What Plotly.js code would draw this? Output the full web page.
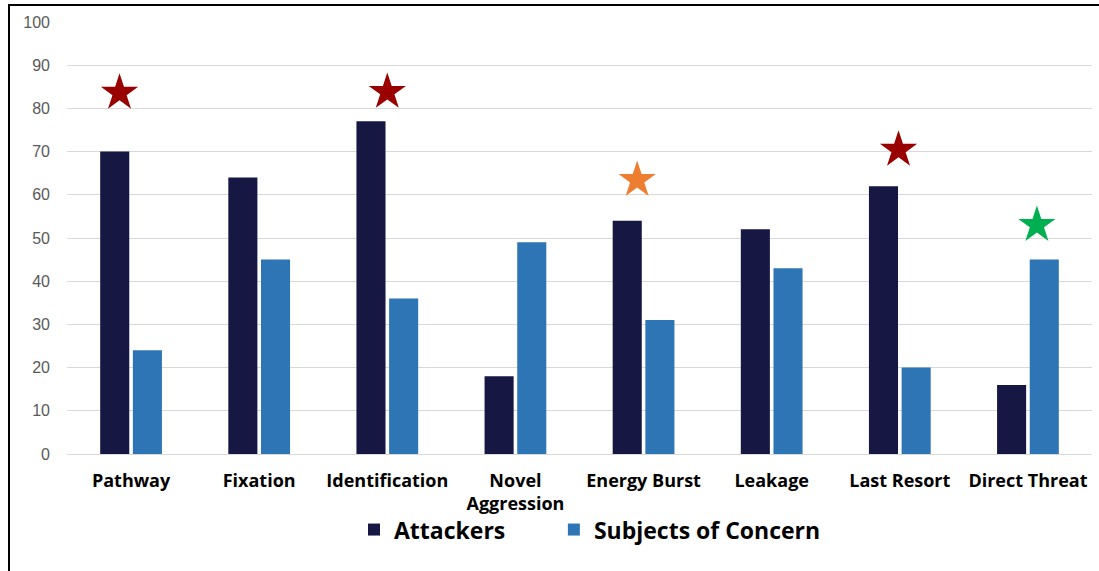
<!DOCTYPE html>
<html>
<head>
<meta charset="utf-8">
<script src="https://cdn.plot.ly/plotly-3.0.1.min.js"></script>
<style>
  html, body { margin: 0; padding: 0; background: #fff; }
  #wrap { position: relative; width: 1099px; height: 571px; overflow: hidden; }
  #frame { position: absolute; left: 8px; top: 4px; right: -10px; bottom: -10px;
           border-top: 2px solid #000; border-left: 2px solid #000; pointer-events: none; }
  #chart { position: absolute; left: 0; top: 0; width: 1099px; height: 571px; }
</style>
</head>
<body>
<div id="wrap">
  <div id="chart"></div>
  <div id="frame"></div>
</div>
<script>
const categories = ["Pathway", "Fixation", "Identification", "Novel<br>Aggression",
                    "Energy Burst", "Leakage", "Last Resort", "Direct Threat"];
const attackers = [70, 64, 77, 18, 54, 52, 62, 16];
const subjects  = [24, 45, 36, 49, 31, 43, 20, 45];
const yTicks = [0, 10, 20, 30, 40, 50, 60, 70, 80, 90, 100];

// star markers (position on a 0..7 category index scale)
const starX      = [-0.09, 2.0, 3.95, 5.99, 7.07];
const starValue  = [83.6, 83.8, 63.4, 70.4, 53.0];
const starColors = ["#990000", "#990000", "#ED7D31", "#990000", "#00B050"];

const traces = [
  { type: "bar", name: "Attackers", x: categories, y: attackers, legend: "legend",
    marker: { color: "#161743" }, hoverinfo: "x+y" },
  { type: "bar", name: "Subjects of Concern", x: categories, y: subjects, legend: "legend2",
    marker: { color: "#2E75B6" }, hoverinfo: "x+y" },
  { type: "scatter", mode: "markers", x: starX, y: starValue, xaxis: "x2",
    showlegend: false, hoverinfo: "skip",
    marker: { symbol: "star", size: 28, color: starColors, line: { width: 0 } } }
];

const legendFont = { family: "Open Sans, sans-serif", size: 23, color: "#000", weight: "bold" };

const layout = {
  width: 1099, height: 571,
  margin: { l: 67, r: 7, t: 22, b: 117 },
  paper_bgcolor: "#fff", plot_bgcolor: "#fff",
  barmode: "group", bargap: 0.49, bargroupgap: 0.11,
  showlegend: true,
  legend: { orientation: "h", x: 0.28, xanchor: "left", y: -0.175, yanchor: "middle",
            bgcolor: "rgba(0,0,0,0)", font: legendFont, itemwidth: 30 },
  legend2: { orientation: "h", x: 0.475, xanchor: "left", y: -0.175, yanchor: "middle",
             bgcolor: "rgba(0,0,0,0)", font: legendFont, itemwidth: 30 },
  xaxis: { type: "category", range: [-0.5, 7.5], showgrid: false, zeroline: false,
           showline: false, ticks: "", ticklabelstandoff: 14,
           tickfont: { family: "Open Sans, sans-serif", size: 18, color: "#000", weight: "bold" } },
  xaxis2: { overlaying: "x", range: [-0.5, 7.5], visible: false, showgrid: false, zeroline: false },
  yaxis: { range: [0, 100], tickvals: yTicks, ticktext: yTicks.map(String),
           showgrid: true, gridcolor: "#D9D9D9", gridwidth: 1,
           zeroline: true, zerolinecolor: "#D9D9D9", zerolinewidth: 1,
           showline: false, ticks: "", ticklabelstandoff: 16,
           tickfont: { family: "Liberation Sans, Arial, sans-serif", size: 16, color: "#595959" } },
  font: { family: "Open Sans, sans-serif" }
};

Plotly.newPlot("chart", traces, layout, { displayModeBar: false, staticPlot: true });
</script>
</body>
</html>
